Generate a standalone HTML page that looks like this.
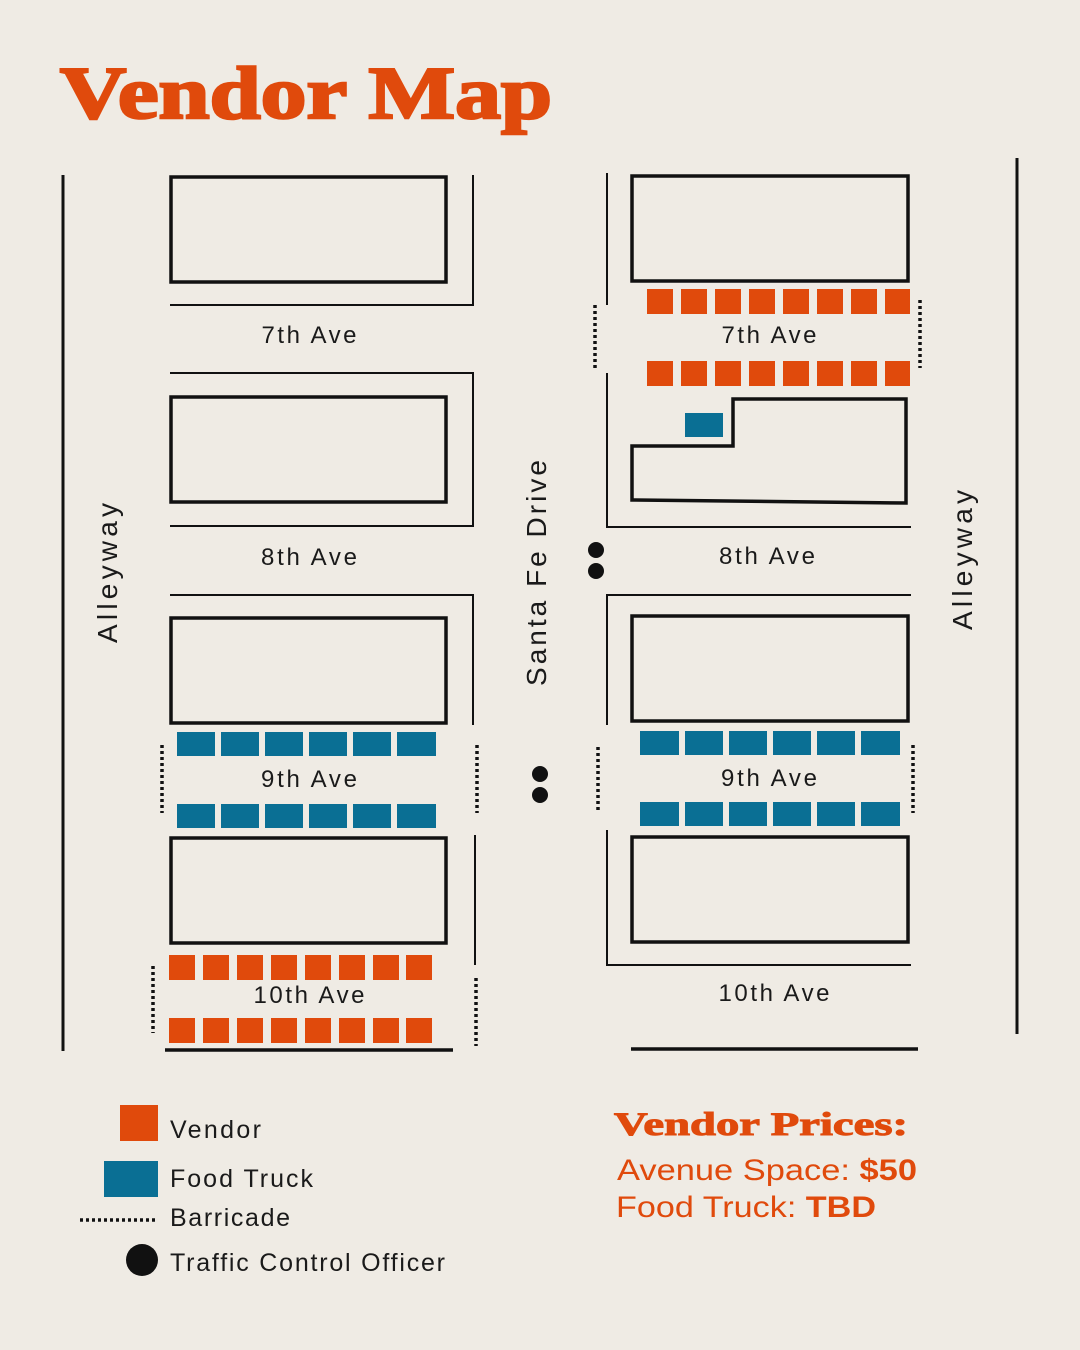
<!DOCTYPE html>
<html><head><meta charset="utf-8"><style>
html,body{margin:0;padding:0;background:#efebe4;}
svg{display:block}
</style></head><body>
<svg width="1080" height="1350" viewBox="0 0 1080 1350" xmlns="http://www.w3.org/2000/svg" font-family="Liberation Sans, sans-serif">
<rect width="1080" height="1350" fill="#efebe4"/>
<text x="60" y="118" style="font-family:'Liberation Serif',serif;font-weight:bold" font-size="74" fill="#e04a0c" textLength="492" lengthAdjust="spacingAndGlyphs" stroke="#e04a0c" stroke-width="2.5">Vendor Map</text>

<g stroke="#111" fill="none">
<line x1="63" y1="175" x2="63" y2="1051" stroke-width="3"/>
<rect x="171" y="177" width="275" height="105" stroke-width="3.5"/>
<rect x="171" y="397" width="275" height="105" stroke-width="3.5"/>
<rect x="171" y="618" width="275" height="105" stroke-width="3.5"/>
<rect x="171" y="838" width="275" height="105" stroke-width="3.5"/>
<polyline points="170,305 473,305 473,175" stroke-width="2"/>
<polyline points="170,373 473,373 473,526 170,526" stroke-width="2"/>
<polyline points="170,595 473,595 473,725" stroke-width="2"/>
<line x1="475" y1="835" x2="475" y2="965" stroke-width="2"/>
<line x1="165" y1="1050" x2="453" y2="1050" stroke-width="3.5"/>
<line x1="1017" y1="158" x2="1017" y2="1034" stroke-width="3"/>
<line x1="607" y1="173" x2="607" y2="305" stroke-width="2"/>
<polyline points="607,373 607,527 911,527" stroke-width="2"/>
<rect x="632" y="176" width="276" height="105" stroke-width="3.5"/>
<polygon points="632,446 733,446 733,399 906,399 906,503 632,500" stroke-width="3.5"/>
<polyline points="911,595 607,595 607,725" stroke-width="2"/>
<rect x="632" y="616" width="276" height="105" stroke-width="3.5"/>
<rect x="632" y="837" width="276" height="105" stroke-width="3.5"/>
<polyline points="607,830 607,965 911,965" stroke-width="2"/>
<line x1="631" y1="1049" x2="918" y2="1049" stroke-width="3.5"/>
<g stroke-width="3.5" stroke-dasharray="3,3">
<line x1="162" y1="745" x2="162" y2="813"/>
<line x1="477" y1="745" x2="477" y2="813"/>
<line x1="153" y1="966" x2="153" y2="1033"/>
<line x1="476" y1="978" x2="476" y2="1046"/>
<line x1="595" y1="305" x2="595" y2="371"/>
<line x1="920" y1="300" x2="920" y2="368"/>
<line x1="598" y1="747" x2="598" y2="813"/>
<line x1="913" y1="745" x2="913" y2="813"/>
<line x1="80" y1="1220" x2="156" y2="1220"/>
</g>
</g>

<g fill="#0a6f94">
<g id="tl"><rect x="177" y="732" width="38" height="24"/><rect x="221" y="732" width="38" height="24"/><rect x="265" y="732" width="38" height="24"/><rect x="309" y="732" width="38" height="24"/><rect x="353" y="732" width="38" height="24"/><rect x="397" y="732" width="39" height="24"/></g>
<use href="#tl" y="72"/>
<g id="tr"><rect x="640" y="731" width="39" height="24"/><rect x="685" y="731" width="38" height="24"/><rect x="729" y="731" width="38" height="24"/><rect x="773" y="731" width="38" height="24"/><rect x="817" y="731" width="38" height="24"/><rect x="861" y="731" width="39" height="24"/></g>
<use href="#tr" y="71"/>
<rect x="685" y="413" width="38" height="24"/>
<rect x="104" y="1161" width="54" height="36"/>
</g>

<g fill="#e04a0c">
<g id="ol"><rect x="169" y="955" width="26" height="25"/><rect x="203" y="955" width="26" height="25"/><rect x="237" y="955" width="26" height="25"/><rect x="271" y="955" width="26" height="25"/><rect x="305" y="955" width="26" height="25"/><rect x="339" y="955" width="26" height="25"/><rect x="373" y="955" width="26" height="25"/><rect x="406" y="955" width="26" height="25"/></g>
<use href="#ol" y="63"/>
<g id="or"><rect x="647" y="289" width="26" height="25"/><rect x="681" y="289" width="26" height="25"/><rect x="715" y="289" width="26" height="25"/><rect x="749" y="289" width="26" height="25"/><rect x="783" y="289" width="26" height="25"/><rect x="817" y="289" width="26" height="25"/><rect x="851" y="289" width="26" height="25"/><rect x="885" y="289" width="25" height="25"/></g>
<use href="#or" y="72"/>
<rect x="120" y="1105" width="38" height="36"/>
</g>

<g fill="#111">
<circle cx="596" cy="550" r="8"/><circle cx="596" cy="571" r="8"/>
<circle cx="540" cy="774" r="8"/><circle cx="540" cy="795" r="8"/>
<circle cx="142" cy="1260" r="16"/>
</g>

<g font-size="24" fill="#1a1a1a" text-anchor="middle" lengthAdjust="spacingAndGlyphs">
<text x="309" y="343" textLength="95">7th Ave</text>
<text x="309" y="565" textLength="96">8th Ave</text>
<text x="309" y="787" textLength="96">9th Ave</text>
<text x="309" y="1003" textLength="111">10th Ave</text>
<text x="769" y="343" textLength="95">7th Ave</text>
<text x="767" y="564" textLength="96">8th Ave</text>
<text x="769" y="786" textLength="96">9th Ave</text>
<text x="774" y="1001" textLength="111">10th Ave</text>
<text transform="translate(117,573) rotate(-90)" font-size="28" textLength="140">Alleyway</text>
<text transform="translate(972,560) rotate(-90)" font-size="28" textLength="140">Alleyway</text>
<text transform="translate(546,573) rotate(-90)" font-size="28" textLength="226">Santa Fe Drive</text>
</g>

<g font-size="25" fill="#1a1a1a" lengthAdjust="spacingAndGlyphs">
<text x="170" y="1138" textLength="91">Vendor</text>
<text x="170" y="1187" textLength="143">Food Truck</text>
<text x="170" y="1226" textLength="120">Barricade</text>
<text x="170" y="1271" textLength="275">Traffic Control Officer</text>
</g>

<text x="614" y="1135" style="font-family:'Liberation Serif',serif;font-weight:bold" font-size="33" fill="#e04a0c" stroke="#e04a0c" stroke-width="1" textLength="294" lengthAdjust="spacingAndGlyphs">Vendor Prices:</text>
<text x="617" y="1180" font-size="30" fill="#e04a0c" textLength="300" lengthAdjust="spacingAndGlyphs">Avenue Space: <tspan font-weight="bold">$50</tspan></text>
<text x="616" y="1217" font-size="30" fill="#e04a0c" textLength="260" lengthAdjust="spacingAndGlyphs">Food Truck: <tspan font-weight="bold">TBD</tspan></text>
</svg>
</body></html>
